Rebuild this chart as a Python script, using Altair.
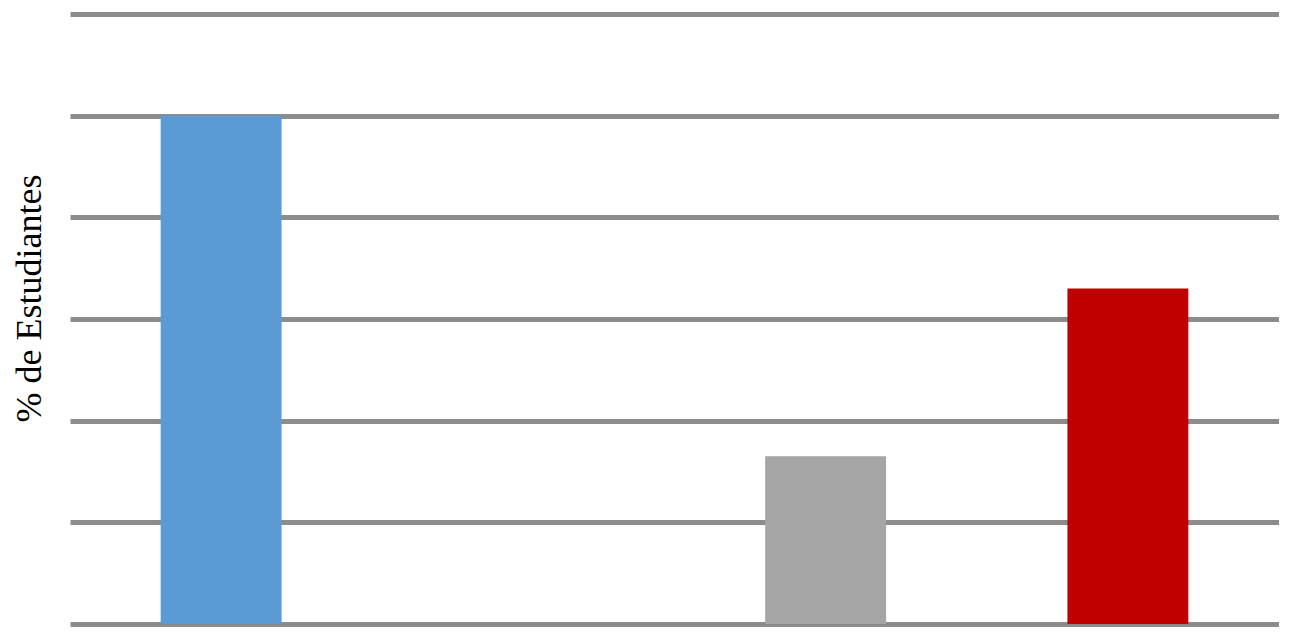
import altair as alt
import pandas as pd

categories = ["Cat 1", "Cat 2", "Cat 3", "Cat 4"]
values = [50, 0, 16.5, 33]
colors = ["#5b9bd5", "#ffffff", "#a5a5a5", "#c00000"]

df = pd.DataFrame({"cat": categories, "val": values})

chart = alt.Chart(df).mark_bar().encode(
    x=alt.X("cat:N", sort=categories,
            scale=alt.Scale(paddingInner=0.6, paddingOuter=0.3),
            axis=None),
    y=alt.Y("val:Q", scale=alt.Scale(domain=[0, 60], nice=False),
            axis=alt.Axis(values=[0, 10, 20, 30, 40, 50, 60], labels=False, ticks=False,
                          domain=False, grid=True, gridColor="#8c8c8c", gridWidth=5,
                          title="% de Estudiantes", titleFont="Liberation Serif",
                          titleFontSize=36, titleFontWeight="normal", titleColor="#000000",
                          titleAngle=-90, titleAlign="center", titleBaseline="alphabetic",
                          titleX=-30, titleY=284)),
    color=alt.Color("cat:N", scale=alt.Scale(domain=categories, range=colors), legend=None),
).properties(
    width=1209, height=610,
    padding={"left": 62, "top": 6, "right": 0, "bottom": 8},
    autosize=alt.AutoSizeParams(type="none"),
).configure_view(stroke=None)

chart.save("out.html", embed_options={"renderer": "svg", "actions": False})
